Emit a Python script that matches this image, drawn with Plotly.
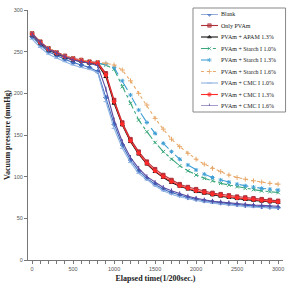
import plotly.graph_objects as go

x_time = list(range(0, 3001, 100))

blank = [268, 258, 250, 245, 241, 237, 234, 231, 226, 195, 163, 138, 120, 107, 98, 91, 85, 81, 78, 75, 73, 71, 70, 68.5, 67.5, 66.5, 65.5, 65, 64, 63.5, 63]
only_pvam = [272, 262, 254, 249, 245, 242, 240, 238, 237, 224, 192, 165, 145, 130, 118, 109, 102, 96, 91, 87.5, 85, 82.5, 80.5, 79, 77.5, 76, 75, 74, 73, 72, 71]
apam = [270, 260, 252, 247, 243, 240, 238, 236, 235, 220, 188, 162, 142, 127, 115, 106, 99, 93, 88.5, 85, 82, 80, 78, 76.5, 75, 73.5, 72.5, 71.5, 70.5, 69.5, 69]
starch10 = [271, 261, 253, 248, 244, 241, 239, 237, 236, 234, 229, 208, 188, 168, 154, 141, 130, 121, 113, 107, 102, 98, 95, 92, 90, 88, 86, 84.5, 83, 82, 81]
starch13 = [271, 261, 253, 248, 244, 241, 239, 237, 236, 235, 231, 215, 198, 180, 165, 152, 140, 130, 121, 114, 108, 103, 99, 96, 93.5, 91, 89, 87.5, 86, 85, 84]
starch16 = [272, 262, 254, 249, 245, 242, 240, 238, 237, 236, 234, 228, 215, 200, 186, 170, 157, 145, 136, 128, 121, 115, 110, 106, 102, 99, 97, 95, 93.5, 92, 91]
cmc10 = [265, 255, 247, 242, 238, 234, 231, 229, 225, 190, 158, 134, 117, 104, 96, 89, 83, 79, 76, 73.5, 71.5, 69.5, 68, 67, 66, 65, 64, 63.5, 63, 62.5, 62]
cmc13 = [271, 261, 253, 248, 244, 241, 239, 237, 236, 222, 190, 163, 143, 128, 116, 107, 100, 94, 89, 86, 83, 81, 79, 77.5, 76, 74.5, 73.5, 72.5, 71.5, 70.5, 69.5]
cmc16 = [271, 261, 253, 248, 244, 240, 238, 236, 233, 205, 168, 142, 123, 110, 100, 93, 87, 83, 79.5, 76.5, 74, 72, 70.5, 69.5, 68.5, 67.5, 66.5, 66, 65.5, 65, 64.5]

names = ["Blank", "Only PVAm", "PVAm + APAM 1.3%", "PVAm + Starch I 1.0%",
         "PVAm + Starch I 1.3%", "PVAm + Starch I 1.6%", "PVAm + CMC I 1.0%",
         "PVAm + CMC I 1.3%", "PVAm + CMC I 1.6%"]
series = [blank, only_pvam, apam, starch10, starch13, starch16, cmc10, cmc13, cmc16]
colors = ["#3d6cc0", "#b0303a", "#111111", "#3aa77c", "#3f9fd6", "#e8a868",
          "#8fb2e2", "#ff2a2a", "#5a4aa0"]
dashes = ["solid", "solid", "solid", "dashdot", "dash", "dot", "solid", "solid", "solid"]
symbols = ["diamond", "square", "triangle-up", "x-thin", "asterisk", "cross-thin",
           "line-ew", "circle", "line-ns"]

fig = go.Figure()
for n, s, c, d, sym in zip(names, series, colors, dashes, symbols):
    fig.add_trace(go.Scatter(
        x=x_time, y=s, name=n, mode="lines+markers", showlegend=False,
        line=dict(color=c, width=1.1, dash=d),
        marker=dict(symbol=sym, size=3.5, color=c, line=dict(color=c, width=1)),
    ))

# manual compact legend (keys on an auxiliary hidden axis)
fig.add_shape(type="rect", xref="paper", yref="paper", x0=0.647, x1=1.01,
              y0=0.592, y1=1.008, line=dict(color="#888", width=1),
              fillcolor="white", layer="below")
for i, (n, c, d, sym) in enumerate(zip(names, colors, dashes, symbols)):
    fig.add_trace(go.Scatter(
        x=[0, 1, 2], y=[i, i, i], mode="lines+markers", showlegend=False,
        xaxis="x2", yaxis="y2", hoverinfo="skip",
        line=dict(color=c, width=1.1, dash=d),
        marker=dict(symbol=sym, size=[0, 3.5, 0], color=c, line=dict(color=c, width=1)),
    ))
    fig.add_annotation(x=2, y=i, xref="x2", yref="y2", text=n, showarrow=False,
                       xanchor="left", yanchor="middle", xshift=1,
                       font=dict(family="Liberation Serif", size=6, color="#222"))

fig.update_layout(
    width=287, height=284,
    margin=dict(l=28, r=4, t=10, b=24),
    paper_bgcolor="white", plot_bgcolor="white",
    font=dict(family="Liberation Serif", size=6, color="#333"),
    showlegend=False,
    xaxis=dict(range=[-50, 3060], tickvals=[0, 500, 1000, 1500, 2000, 2500, 3000],
               showgrid=False, zeroline=False, showline=True, linecolor="#777",
               linewidth=1, ticks="outside", ticklen=3, tickcolor="#777",
               minor=dict(dtick=100, tick0=0, ticks="outside", ticklen=3, tickcolor="#777"),
               tickfont=dict(family="Liberation Sans", size=5.5, color="#555"),
               title=dict(text="<b>Elapsed time(1/200sec.)</b>",
                          font=dict(family="Liberation Serif", size=8, color="#222"),
                          standoff=4)),
    yaxis=dict(range=[0, 300], tickvals=[0, 50, 100, 150, 200, 250, 300],
               showgrid=False, zeroline=False, showline=True, linecolor="#777",
               linewidth=1, ticks="outside", ticklen=3, tickcolor="#777",
               tickfont=dict(family="Liberation Sans", size=5.5, color="#555"),
               title=dict(text="<b>Vacuum pressure (mmHg)</b>",
                          font=dict(family="Liberation Serif", size=8, color="#222"),
                          standoff=1)),
    xaxis2=dict(domain=[0.678, 0.745], range=[0, 2], anchor="y2", visible=False,
                fixedrange=True),
    yaxis2=dict(domain=[0.616, 0.984], range=[8, 0], anchor="x2", visible=False,
                fixedrange=True),
)

fig.write_html("out.html")
